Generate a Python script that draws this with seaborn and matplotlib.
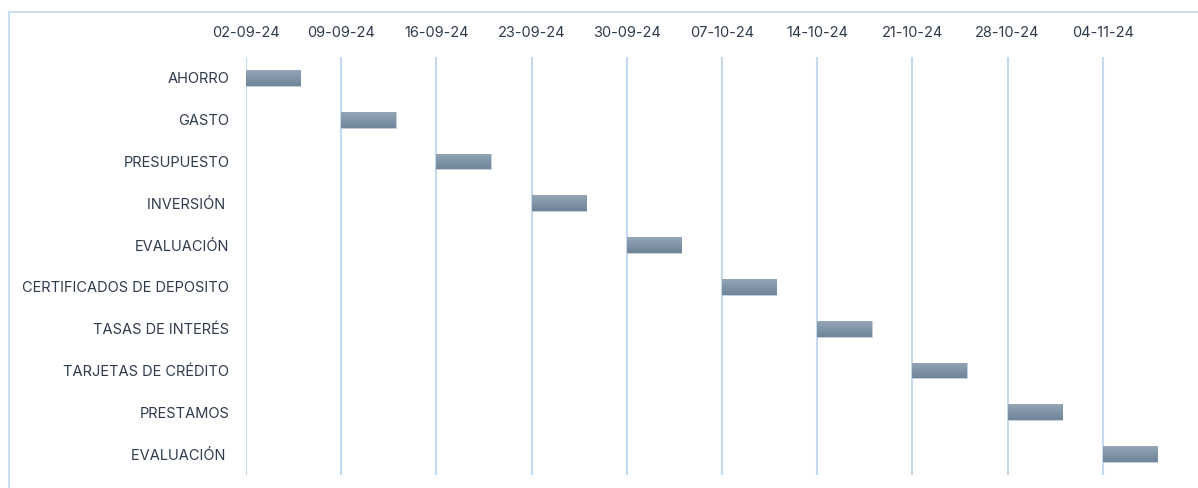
import pandas as pd
import numpy as np
import matplotlib
matplotlib.use('Agg')
import matplotlib.pyplot as plt
import matplotlib.dates as mdates
from matplotlib.patches import Rectangle
import seaborn as sns

# Data
tasks = ['AHORRO', 'GASTO', 'PRESUPUESTO', 'INVERSIÓN ', 'EVALUACIÓN',
         'CERTIFICADOS DE DEPOSITO', 'TASAS DE INTERÉS', 'TARJETAS DE CRÉDITO',
         'PRESTAMOS', 'EVALUACIÓN ']
start_dates = ['2024-09-02', '2024-09-09', '2024-09-16', '2024-09-23', '2024-09-30',
               '2024-10-07', '2024-10-14', '2024-10-21', '2024-10-28', '2024-11-04']
durations = [4, 4, 4, 4, 4, 4, 4, 4, 4, 4]

df = pd.DataFrame({'task': tasks, 'start': pd.to_datetime(start_dates), 'days': durations})
df['pos'] = range(len(df))

sns.set_theme(style='white')
plt.rcParams['font.family'] = ['Inter', 'DejaVu Sans']
text_color = '#2f3b4c'
grid_color = '#c5d9ef'

fig = plt.figure(figsize=(11.98, 4.88), dpi=100)
ax = fig.add_axes([246 / 1198, 1 - 475 / 488, 1 - 246 / 1198, (475 - 57) / 488])

# chart border (runs off the right and bottom edges)
fig.patches.append(Rectangle((9 / 1198, -0.2), 1.2, 1.2 - 12 / 488, transform=fig.transFigure,
                             fill=False, edgecolor='#c9dcf0', linewidth=1.5))

starts = mdates.date2num(df['start'])
bars = ax.barh(df['pos'], df['days'], left=starts, height=0.38, color='#8093a6',
               edgecolor='#c8d2dc', linewidth=0.6, zorder=3)

# vertical gradient on each bar
grad = np.linspace(0, 1, 64).reshape(-1, 1)
cmap = matplotlib.colors.LinearSegmentedColormap.from_list('g', ['#94a5b6', '#6f8599'])
for b in bars:
    x0, y0 = b.get_x(), b.get_y()
    im = ax.imshow(grad, cmap=cmap, aspect='auto', zorder=4,
                   extent=[x0, x0 + b.get_width(), y0 + b.get_height(), y0])
    im.set_clip_path(b)

ax.set_xlim(mdates.date2num(pd.Timestamp('2024-09-02')), mdates.date2num(pd.Timestamp('2024-11-11')))
ax.set_ylim(len(df) - 0.5, -0.5)

ax.set_xticks(starts)
ax.xaxis.set_major_formatter(mdates.DateFormatter('%d-%m-%y'))
ax.xaxis.tick_top()
ax.set_yticks(df['pos'])
ax.set_yticklabels(df['task'])
ax.tick_params(axis='x', length=0, pad=12.5, labelsize=10.5, colors=text_color)
ax.tick_params(axis='y', length=0, pad=12, labelsize=10.5, colors=text_color)

ax.grid(axis='x', color=grid_color, linewidth=1.5, zorder=0)
ax.grid(axis='y', visible=False)
for s in ax.spines.values():
    s.set_visible(False)
ax.set_xlabel('')
ax.set_ylabel('')

fig.savefig('out.png', dpi=100)
